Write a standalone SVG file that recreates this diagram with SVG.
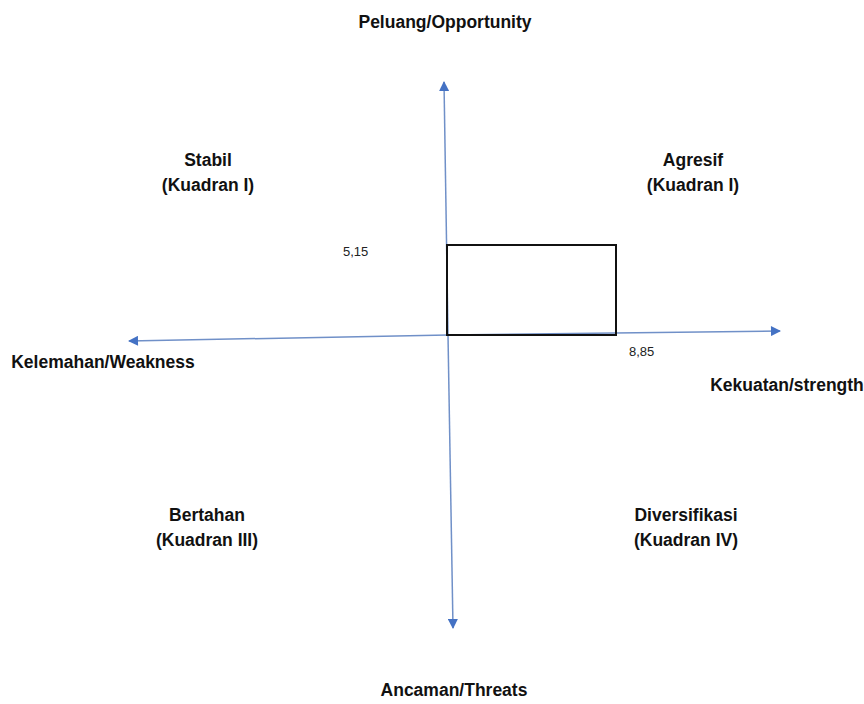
<svg xmlns="http://www.w3.org/2000/svg" width="864" height="704" viewBox="0 0 864 704">
<style>
.t{font-family:"Liberation Sans",Arial,sans-serif;font-weight:bold;font-size:17.5px;fill:#111;text-anchor:middle}
.n{font-family:"Liberation Sans",Arial,sans-serif;font-size:13px;fill:#222}
.ax{stroke:#7090c8;stroke-width:1.5;fill:none}
</style>
<defs>
<marker id="ah" viewBox="0 0 10 10" refX="9" refY="5" markerWidth="11" markerHeight="10" markerUnits="userSpaceOnUse" orient="auto"><path d="M0,0 L10,5 L0,10 z" fill="#4472c4"/></marker>
</defs>
<rect width="864" height="704" fill="#fff"/>
<g id="connectors">
<line class="ax" x1="448" y1="335" x2="444" y2="82" marker-end="url(#ah)"/>
<line class="ax" x1="448" y1="335" x2="453" y2="628" marker-end="url(#ah)"/>
<line class="ax" x1="448" y1="335" x2="129" y2="341" marker-end="url(#ah)"/>
<line class="ax" x1="448" y1="335" x2="780" y2="331" marker-end="url(#ah)"/>
</g>
<g id="box"><rect x="447" y="245" width="169" height="90" fill="none" stroke="#111" stroke-width="2"/></g>
<g id="v515"><text class="n" x="343" y="256">5,15</text></g>
<g id="v885"><text class="n" x="629" y="356">8,85</text></g>
<g id="opportunity"><text class="t" x="445" y="28">Peluang/Opportunity</text></g>
<g id="threats"><text class="t" x="454" y="696">Ancaman/Threats</text></g>
<g id="weakness"><text class="t" x="103" y="368">Kelemahan/Weakness</text></g>
<g id="strength"><text class="t" x="787" y="391">Kekuatan/strength</text></g>
<g id="stabil"><text class="t" x="208" y="166">Stabil</text><text class="t" x="208" y="191">(Kuadran I)</text></g>
<g id="agresif"><text class="t" x="693" y="166">Agresif</text><text class="t" x="693" y="191">(Kuadran I)</text></g>
<g id="bertahan"><text class="t" x="207" y="521">Bertahan</text><text class="t" x="207" y="546">(Kuadran III)</text></g>
<g id="diversifikasi"><text class="t" x="686" y="521">Diversifikasi</text><text class="t" x="686" y="546">(Kuadran IV)</text></g>
</svg>
